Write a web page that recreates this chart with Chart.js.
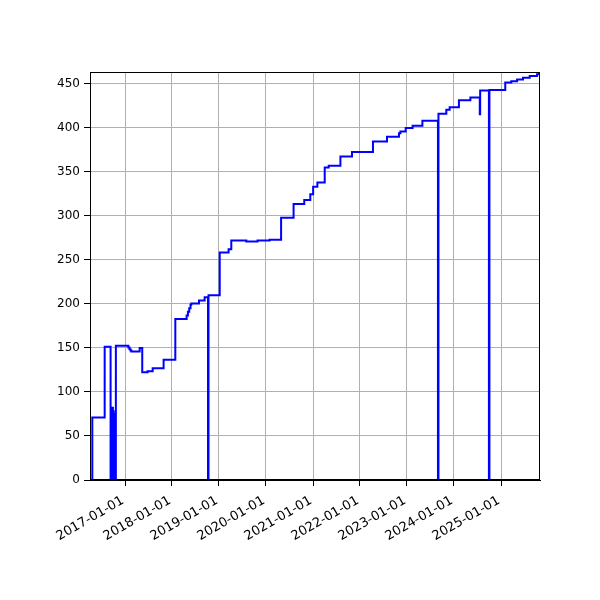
<!DOCTYPE html>
<html>
<head>
<meta charset="UTF-8">
<title>step chart</title>
<script src="https://cdn.jsdelivr.net/npm/chart.js"></script>
<style>
  html, body { margin: 0; padding: 0; background: #fff; }
</style>
</head>
<body>
<canvas id="c" width="600" height="600"></canvas>
<script>
// change dates (value holds until the next date)
var dates = [
  '2016-04-04', '2016-04-22', '2016-07-27', '2016-09-11', '2016-09-17', '2016-09-19',
  '2016-09-22', '2016-09-24', '2016-09-27', '2016-09-29', '2016-10-03', '2016-10-05',
  '2016-10-08', '2016-10-10', '2016-10-14', '2016-10-16', '2016-10-22', '2017-01-27',
  '2017-02-05', '2017-02-13', '2017-02-19', '2017-04-25', '2017-05-15', '2017-06-25',
  '2017-08-04', '2017-10-28', '2018-01-27', '2018-04-25', '2018-05-05', '2018-05-15',
  '2018-05-25', '2018-05-31', '2018-07-30', '2018-09-12', '2018-10-08', '2018-10-12',
  '2019-01-07', '2019-03-17', '2019-04-07', '2019-08-02', '2019-10-28', '2020-01-30',
  '2020-04-28', '2020-08-03', '2020-10-25', '2020-12-11', '2021-01-02', '2021-02-04',
  '2021-04-02', '2021-05-03', '2021-08-02', '2021-10-31', '2022-04-12', '2022-07-30',
  '2022-10-31', '2022-11-11', '2022-12-22', '2023-02-14', '2023-05-01', '2023-08-30',
  '2023-09-03', '2023-11-03', '2023-11-29', '2024-02-09', '2024-05-08', '2024-07-20',
  '2024-07-23', '2024-09-29', '2024-10-03', '2025-02-03', '2025-03-22', '2025-05-06',
  '2025-06-21', '2025-08-12', '2025-10-08', '2025-10-23', '2025-10-31'
];
var values = [
  0, 71, 151.5, 0, 82, 0,
  80, 0, 82, 0, 78, 0,
  75, 0, 60, 0, 152.5, 150.5,
  148.5, 147, 146, 150, 122.5, 123.5,
  127, 136.5, 183, 187, 191, 195,
  199, 200.5, 204, 207.5, 0, 210,
  258.5, 262, 272, 271, 272, 273,
  298, 313.5, 318, 324.5, 333, 338,
  355, 357, 367.5, 372.5, 384.5, 390,
  394, 396, 400, 402.5, 408, 0,
  416, 420.5, 423.5, 431.5, 434.5, 415.5,
  442.5, 0, 443, 451.5, 453, 455,
  457, 459, 461, 463, 463.5
];
var xTickDates = ['2017-01-01', '2018-01-01', '2019-01-01', '2020-01-01', '2021-01-01',
                  '2022-01-01', '2023-01-01', '2024-01-01', '2025-01-01'];
var yTicks = [0, 50, 100, 150, 200, 250, 300, 350, 400, 450];

var points = dates.map(function (d, i) { return {x: Date.parse(d), y: values[i]}; });

Chart.defaults.font.family = "'DejaVu Sans', sans-serif";
Chart.defaults.font.size = 12;
Chart.defaults.color = '#000';

// top and right spines
var frame = {
  id: 'frame',
  afterDraw: function (chart) {
    var a = chart.chartArea, ctx = chart.ctx;
    ctx.save();
    ctx.strokeStyle = '#000';
    ctx.lineWidth = 1;
    ctx.strokeRect(Math.round(a.left) + 0.5, Math.round(a.top) + 0.5,
                   Math.round(a.right - a.left) - 1, Math.round(a.bottom - a.top) - 1);
    ctx.restore();
  }
};

new Chart(document.getElementById('c').getContext('2d'), {
  type: 'line',
  data: {
    datasets: [{
      data: points,
      borderColor: '#0000ff',
      borderWidth: 2,
      pointRadius: 0,
      stepped: true,
      fill: false
    }]
  },
  options: {
    responsive: false,
    animation: false,
    devicePixelRatio: 1,
    layout: { padding: { left: 0, right: 60, top: 72, bottom: 0 } },
    plugins: { legend: { display: false }, tooltip: { enabled: false } },
    scales: {
      x: {
        type: 'linear',
        min: Date.parse(dates[0]),
        max: Date.parse(dates[dates.length - 1]),
        afterBuildTicks: function (s) {
          s.ticks = xTickDates.map(function (d) { return {value: Date.parse(d)}; });
        },
        afterFit: function (s) { s.height = 120; },
        grid: { color: '#b0b0b0', lineWidth: 1, tickColor: '#000', tickLength: 6 },
        border: { color: '#000', width: 1 },
        ticks: {
          minRotation: 30, maxRotation: 30, padding: 7, autoSkip: false,
          labelOffset: -2,
          font: { size: 13 },
          callback: function (v) { return new Date(v).toISOString().slice(0, 10); }
        }
      },
      y: {
        type: 'linear',
        min: 0,
        max: 463.5,
        afterBuildTicks: function (s) {
          s.ticks = yTicks.map(function (v) { return {value: v}; });
        },
        afterFit: function (s) { s.width = 90; },
        grid: { color: '#b0b0b0', lineWidth: 1, tickColor: '#000', tickLength: 6 },
        border: { color: '#000', width: 1 },
        ticks: { padding: 4 }
      }
    }
  },
  plugins: [frame]
});
</script>
</body>
</html>
